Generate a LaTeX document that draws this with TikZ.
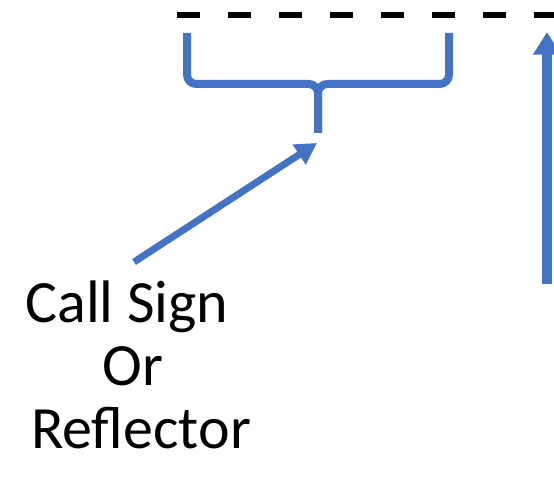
\documentclass[tikz,border=0pt]{standalone}
\usepackage{fontspec}
\setmainfont{Carlito}
\usetikzlibrary{arrows.meta}
\definecolor{accblue}{HTML}{4472C4}
\tikzset{
  braceline/.style={draw=accblue, line width=6pt, rounded corners=7pt},
  bluearrow/.style={draw=accblue, line width=5.25pt, -{Triangle[length=16pt,width=17pt]}},
  caption/.style={anchor=base, inner sep=0pt, font=\fontsize{45}{47}\selectfont},
}
\begin{document}
\begin{tikzpicture}[x=0.75pt,y=-0.75pt]
\useasboundingbox (0,0) rectangle (554,478);
\clip (0,0) rectangle (554,478);
\draw[line width=4.5pt, dash pattern=on 17.25pt off 21pt] (177,15) -- (600,15);
% brace over the part
\coordinate (bl) at (187,33);
\coordinate (br) at (449,33);
\coordinate (bmid) at (318,84);
\coordinate (bstem) at (318,133);
\draw[braceline] (bl) -- (bl |- bmid) -- (bmid) -- (bstem);
\draw[braceline] (br) -- (br |- bmid) -- (bmid) -- (bstem);
% labels
\node[caption] (callsign) at (127,322) {Call Sign};
\node[caption] (or) at (133,385) {Or};
\node[caption] (reflector) at (141,448) {Reflector};
\coordinate (tail) at (134,262);
\coordinate (tip) at (317,143);
\draw[bluearrow] (tail) -- (tip);
% right arrow
\coordinate (vbot) at (547,284);
\coordinate (vtop) at (547,32);
\draw[bluearrow, line width=7pt, -{Triangle[length=17pt,width=20pt]}] (vbot) -- (vtop);
\end{tikzpicture}
\end{document}
